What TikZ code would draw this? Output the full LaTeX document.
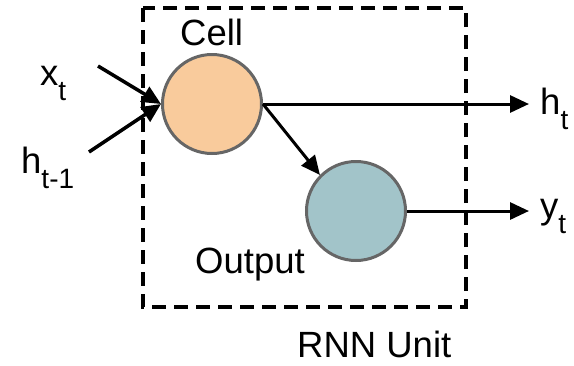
\documentclass[tikz,border=0pt]{standalone}
\usepackage{fontspec}
\setmainfont{Liberation Sans}
\usetikzlibrary{arrows.meta}
\begin{document}
\begin{tikzpicture}[x=1pt,y=-1pt,
  lbl/.style={inner sep=0pt,anchor=base west,font=\fontsize{36.5}{40}\selectfont},
  unit/.style={circle,draw=black!60,line width=3pt,minimum size=99pt,inner sep=0pt},
  arr/.style={line width=3.5pt,-{Triangle[length=19pt,width=17pt]}},
  box/.style={line width=3.5pt,dash pattern=on 14pt off 8pt}]
\useasboundingbox (0,0) rectangle (574,365);
\newcommand{\sbs}[1]{\raisebox{-0.42em}{\fontsize{28}{30}\selectfont #1}}
\draw[box] (143,8) rectangle (466,307);
\node[unit,fill={rgb,255:red,249;green,203;blue,156}] (cell) at (212,104) {};
\node[unit,fill={rgb,255:red,162;green,196;blue,201}] (out) at (356,211) {};
\node[lbl] (lcell) at (180,45) {Cell};
\node[lbl] (lout) at (195,273) {Output};
\node[lbl] (lrnn) at (297,357) {RNN Unit};
\node[lbl] (lx) at (40,85) {x\sbs{t}};
\node[lbl] (lh1) at (21,173) {h\sbs{t-1}};
\node[lbl] (lht) at (540,114) {h\sbs{t}};
\node[lbl] (lyt) at (540,218) {y\sbs{t}};
\coordinate (xs) at (98,66);
\coordinate (hs) at (89,152);
\coordinate (he) at (529,104);
\coordinate (ye) at (529,211);
\draw[arr] (xs) -- (cell.west);
\draw[arr] (hs) -- (cell.west);
\draw[arr,line width=3pt] (cell.east) -- (he);
\draw[arr,line width=3pt] (cell.east) -- (out.135);
\draw[arr,line width=3pt] (out.east) -- (ye);
\end{tikzpicture}
\end{document}
